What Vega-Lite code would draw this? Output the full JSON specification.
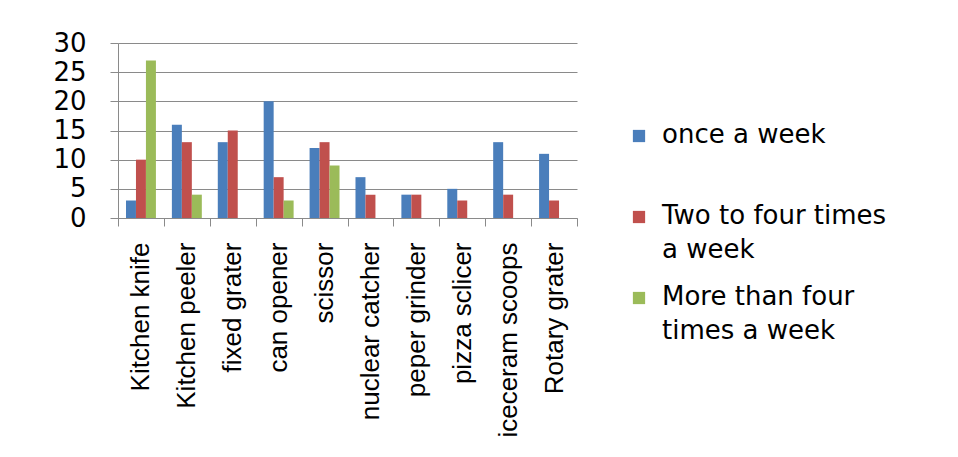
{
  "$schema": "https://vega.github.io/schema/vega-lite/v6.json",
  "autosize": {"type": "none"},
  "padding": {"left": 118, "top": 43, "right": 381, "bottom": 239},
  "width": 459,
  "height": 175,
  "background": "white",
  "data": {
    "values": [
      {"tool": "Kitchen knife", "freq": "once a week", "count": 3},
      {"tool": "Kitchen knife", "freq": "Two to four times a week", "count": 10},
      {"tool": "Kitchen knife", "freq": "More than four times a week", "count": 27},
      {"tool": "Kitchen peeler", "freq": "once a week", "count": 16},
      {"tool": "Kitchen peeler", "freq": "Two to four times a week", "count": 13},
      {"tool": "Kitchen peeler", "freq": "More than four times a week", "count": 4},
      {"tool": "fixed grater", "freq": "once a week", "count": 13},
      {"tool": "fixed grater", "freq": "Two to four times a week", "count": 15},
      {"tool": "can opener", "freq": "once a week", "count": 20},
      {"tool": "can opener", "freq": "Two to four times a week", "count": 7},
      {"tool": "can opener", "freq": "More than four times a week", "count": 3},
      {"tool": "scissor", "freq": "once a week", "count": 12},
      {"tool": "scissor", "freq": "Two to four times a week", "count": 13},
      {"tool": "scissor", "freq": "More than four times a week", "count": 9},
      {"tool": "nuclear catcher", "freq": "once a week", "count": 7},
      {"tool": "nuclear catcher", "freq": "Two to four times a week", "count": 4},
      {"tool": "peper grinder", "freq": "once a week", "count": 4},
      {"tool": "peper grinder", "freq": "Two to four times a week", "count": 4},
      {"tool": "pizza sclicer", "freq": "once a week", "count": 5},
      {"tool": "pizza sclicer", "freq": "Two to four times a week", "count": 3},
      {"tool": "iceceram scoops", "freq": "once a week", "count": 13},
      {"tool": "iceceram scoops", "freq": "Two to four times a week", "count": 4},
      {"tool": "Rotary grater", "freq": "once a week", "count": 11},
      {"tool": "Rotary grater", "freq": "Two to four times a week", "count": 3}
    ]
  },
  "mark": {"type": "bar"},
  "encoding": {
    "x": {
      "field": "tool",
      "type": "nominal",
      "sort": ["Kitchen knife", "Kitchen peeler", "fixed grater", "can opener", "scissor", "nuclear catcher", "peper grinder", "pizza sclicer", "iceceram scoops", "Rotary grater"],
      "scale": {"paddingInner": 0, "paddingOuter": 0},
      "axis": {
        "title": null,
        "labelAngle": 270,
        "labelAlign": "right",
        "labelBaseline": "middle",
        "labelFont": "Liberation Sans",
        "labelFontSize": 26,
        "labelColor": "#000000",
        "labelPadding": 16,
        "labelLimit": 400,
        "tickBand": "extent",
        "tickSize": 8,
        "tickColor": "#8a8a8a",
        "domainColor": "#8a8a8a",
        "grid": false
      }
    },
    "xOffset": {
      "field": "freq",
      "type": "nominal",
      "sort": ["once a week", "Two to four times a week", "More than four times a week"],
      "scale": {"paddingInner": 0, "paddingOuter": 0.8}
    },
    "y": {
      "field": "count",
      "type": "quantitative",
      "scale": {"domain": [0, 30]},
      "axis": {
        "title": null,
        "values": [0, 5, 10, 15, 20, 25, 30],
        "labelFont": "DejaVu Sans",
        "labelFontSize": 26,
        "labelColor": "#000000",
        "labelPadding": 24,
        "tickSize": 8,
        "tickColor": "#8a8a8a",
        "domainColor": "#8a8a8a",
        "gridColor": "#8a8a8a",
        "gridOpacity": 1
      }
    },
    "color": {
      "field": "freq",
      "type": "nominal",
      "sort": ["once a week", "Two to four times a week", "More than four times a week"],
      "scale": {
        "domain": ["once a week", "Two to four times a week", "More than four times a week"],
        "range": ["#4A7EBB", "#C0504D", "#9BBB59"]
      },
      "legend": {
        "title": null,
        "orient": "none",
        "legendX": 508,
        "legendY": 80,
        "symbolType": "square",
        "symbolSize": 150,
        "symbolStrokeWidth": 0,
        "symbolOpacity": 1,
        "labelFont": "DejaVu Sans",
        "labelFontSize": 26,
        "labelColor": "#000000",
        "labelLimit": 400,
        "labelBaseline": "top",
        "labelOffset": 10,
        "rowPadding": 21,
        "labelExpr": "datum.label == 'once a week' ? ['once a week', ''] : datum.label == 'Two to four times a week' ? ['Two to four times', 'a week'] : ['More than four', 'times a week']",
        "encode": {
          "labels": {
            "update": {
              "dy": {"value": -14},
              "lineHeight": {"value": 34}
            }
          }
        }
      }
    }
  },
  "config": {
    "view": {"stroke": null},
    "axis": {"domainWidth": 1, "tickWidth": 1}
  }
}
